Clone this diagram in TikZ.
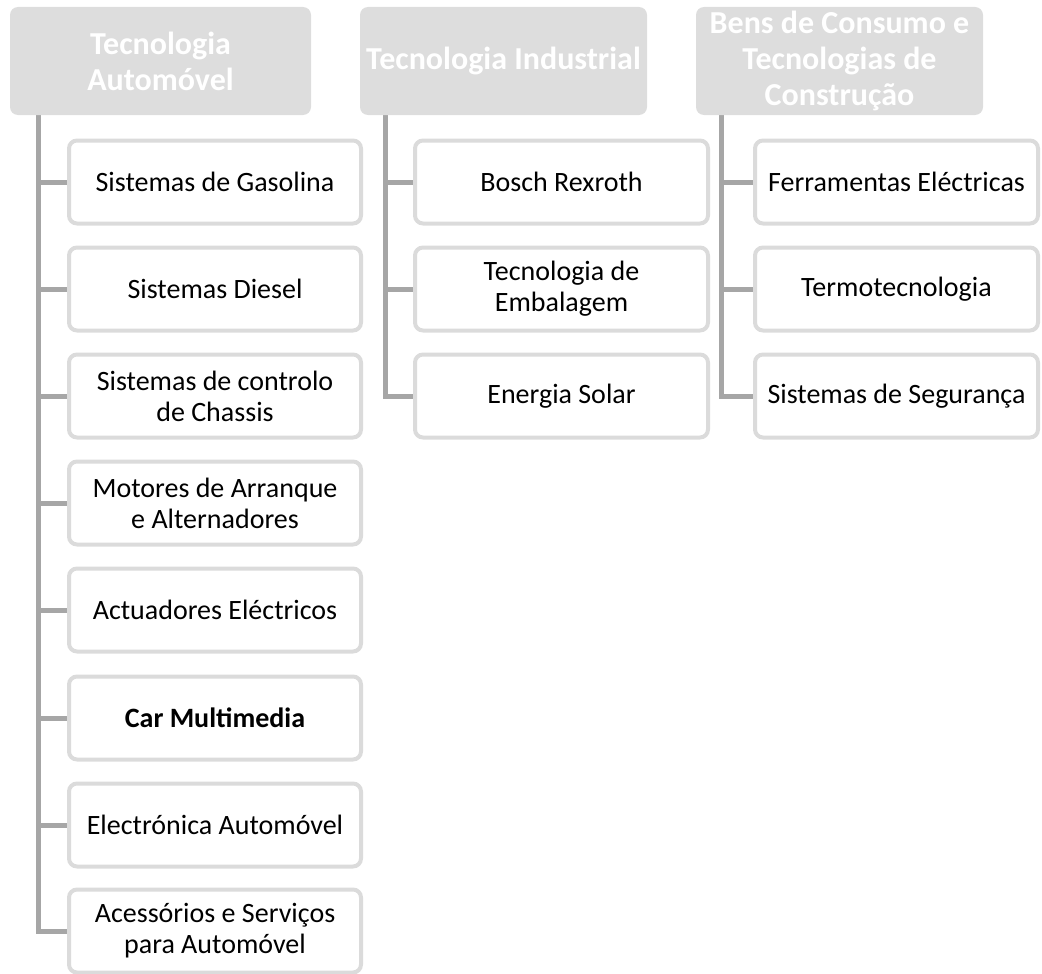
\documentclass[tikz,border=0pt]{standalone}
\usepackage{fontspec}
\setmainfont{Carlito}
\usetikzlibrary{backgrounds}
\definecolor{hdrfill}{RGB}{221,221,221}
\definecolor{bordcol}{RGB}{219,219,219}
\definecolor{conncol}{RGB}{166,166,166}
\begin{document}
\begin{tikzpicture}[x=1pt,y=-1pt,
  hdr/.style={fill=hdrfill, rounded corners=8pt, text=white, align=center,
    font=\fontsize{32}{36}\selectfont\bfseries, minimum height=108pt, inner sep=0pt},
  child/.style={draw=bordcol, line width=4pt, fill=white, rounded corners=8pt,
    align=center, font=\fontsize{28}{31}\selectfont, minimum height=83pt, inner sep=0pt},
  conn/.style={draw=conncol, line width=5pt}]
\useasboundingbox (0,0) rectangle (1042,974);
% headers
\node[hdr, minimum width=301pt] (h1) at (160.5,61) {Tecnologia\\Automóvel};
\node[hdr, minimum width=287pt] (h2) at (503.5,61) {Tecnologia Industrial};
\node[hdr, minimum width=287pt] (h3) at (839.5,61) {Bens de Consumo e\\Tecnologias de\\Construção};
% column 1
\begin{scope}[every node/.append style={child, minimum width=292pt}]
\node (a1) at (215,182) {Sistemas de Gasolina};
\node (a2) at (215,289) {Sistemas Diesel};
\node (a3) at (215,396) {Sistemas de controlo\\de Chassis};
\node (a4) at (215,503) {Motores de Arranque\\e Alternadores};
\node (a5) at (215,610) {Actuadores Eléctricos};
\node (a6) at (215,718) {\bfseries Car Multimedia};
\node (a7) at (215,825) {Electrónica Automóvel};
\node (a8) at (215,931) {Acessórios e Serviços\\para Automóvel};
\end{scope}
% column 2
\begin{scope}[every node/.append style={child, minimum width=293pt}]
\node (b1) at (561.5,182) {Bosch Rexroth};
\node (b2) at (561.5,289) {Tecnologia de\\Embalagem};
\node (b3) at (561.5,396) {Energia Solar};
\end{scope}
% column 3
\begin{scope}[every node/.append style={child, minimum width=283pt}]
\node (c1) at (896.5,182) {Ferramentas Eléctricas};
\node (c2) at (896.5,289) {Termotecnologia};
\node (c3) at (896.5,396) {Sistemas de Segurança};
\end{scope}
% connectors (behind boxes)
\begin{scope}[on background layer]
\foreach \n in {a1,a2,a3,a4,a5,a6,a7,a8}
  \draw[conn] ([xshift=29pt]h1.south west) |- (\n.west);
\foreach \n in {b1,b2,b3}
  \draw[conn] ([xshift=26pt]h2.south west) |- (\n.west);
\foreach \n in {c1,c2,c3}
  \draw[conn] ([xshift=26pt]h3.south west) |- (\n.west);
\end{scope}
\end{tikzpicture}
\end{document}
